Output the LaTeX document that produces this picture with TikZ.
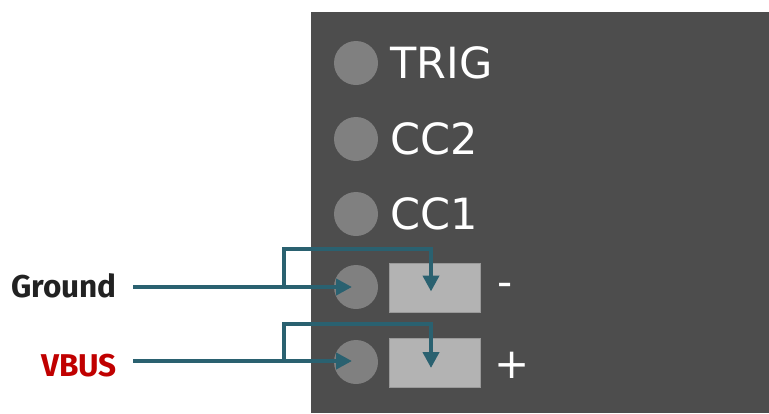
\documentclass[tikz,border=0pt]{standalone}
\usepackage{fontspec}
\setmainfont{DejaVu Sans}
\newfontfamily\labelfont{Fira Sans}
\usetikzlibrary{arrows.meta,calc}
\definecolor{panelgray}{HTML}{4D4D4D}
\definecolor{pingray}{HTML}{808080}
\definecolor{padgray}{HTML}{B3B3B3}
\definecolor{padedge}{HTML}{999999}
\definecolor{wireteal}{HTML}{2A6170}
\definecolor{vbusred}{HTML}{C00000}
\definecolor{groundblack}{HTML}{222222}
\tikzset{
  pinhole/.style={circle,fill=pingray,minimum size=44pt,inner sep=0pt},
  pinname/.style={anchor=base west,text=white,font=\fontsize{43}{43}\selectfont,inner sep=0pt},
  padbox/.style={rectangle,fill=padgray,draw=padedge,line width=1pt,minimum width=91pt,minimum height=49pt,inner sep=0pt},
  sign/.style={anchor=base,text=white,font=\fontsize{42}{42}\selectfont,inner sep=0pt},
  sidelabel/.style={anchor=base east,font=\labelfont\bfseries\fontsize{31.5}{31.5}\selectfont,inner ysep=0pt,inner xsep=16pt},
  wire/.style={draw=wireteal,line width=4.5pt,-{Triangle[length=16pt,width=16pt]}},
}
\begin{document}
\begin{tikzpicture}[x=1pt,y=-1pt]
\useasboundingbox (0,0) rectangle (769,413);
\fill[panelgray] (311,12) rectangle (769,413);
% pins
\node[pinhole] (trig) at (356,63) {};
\node[pinhole] (cctwo) at (356,139) {};
\node[pinhole] (ccone) at (356,214) {};
\node[pinhole] (gnd) at (356,287) {};
\node[pinhole] (vbus) at (356,362) {};
\node[pinname] (trigt) at (390,78) {TRIG};
\node[pinname] (cctwot) at (390,154) {CC2};
\node[pinname] (cconet) at (390,229.5) {CC1};
% pads
\node[padbox] (gpad) at (434.5,287.5) {};
\node[padbox] (vpad) at (434.5,363) {};
\node[sign] (minus) at (505,296.5) {-};
\node[sign] (plus) at (512,378) {+};
% side labels
\node[sidelabel,text=groundblack] (glab) at (133,297.5) {Ground};
\node[sidelabel,text=vbusred] (vlab) at (133,376.5) {VBUS};
\coordinate (gsplit) at (284,287);
\coordinate (vsplit) at (284,361);
% wires
\draw[wire] (glab.east |- gsplit) -- ([xshift=-4pt]gnd.center |- gsplit);
\draw[wire] (gsplit) -- ++(0,-38) -| ([xshift=-3.5pt,yshift=-4pt]gpad.center);
\draw[wire] (vlab.east |- vsplit) -- ([xshift=-4pt]vbus.center |- vsplit);
\draw[wire] (vsplit) -- ++(0,-37) -| ([xshift=-3.5pt,yshift=-5pt]vpad.center);
\end{tikzpicture}
\end{document}
